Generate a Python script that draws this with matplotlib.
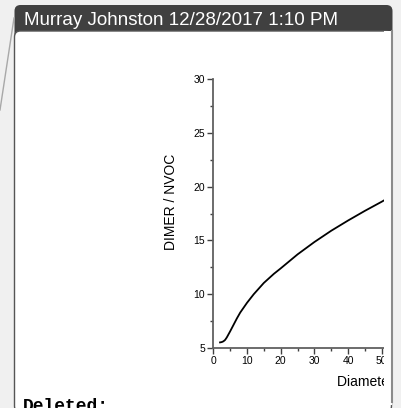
import matplotlib.pyplot as plt
from matplotlib.patches import FancyBboxPatch, Rectangle

# values
diameter = [2, 2.5, 3, 3.5, 4, 5, 6, 7, 8, 10, 12, 15, 18, 20, 25, 30, 35, 40, 45, 50, 51]
ratio = [5.52, 5.55, 5.62, 5.75, 5.98, 6.55, 7.15, 7.75, 8.3, 9.2, 10.0, 11.05, 11.9, 12.4, 13.7, 14.85, 15.9, 16.85, 17.75, 18.6, 18.78]

x_ticks = [0, 10, 20, 30, 40, 50, 60]
y_ticks = [5, 10, 15, 20, 25, 30]

header = "Murray Johnston 12/28/2017 1:10 PM"
footer = "Deleted:"

W, H = 401, 408


def main():
    plt.rcParams['font.family'] = ['Liberation Sans', 'DejaVu Sans']
    fig = plt.figure(figsize=(W / 100, H / 100), dpi=100)
    fig.patch.set_facecolor('#f0f0f0')

    # background layer in pixel coords
    bg = fig.add_axes([0, 0, 1, 1], zorder=0)
    bg.set_xlim(0, W)
    bg.set_ylim(H, 0)
    bg.axis('off')

    bg.plot([14, 0], [18, 110], color='#a8a8a8', lw=1)
    bg.add_patch(FancyBboxPatch((14.5, 5), 378, 40, boxstyle='round,pad=0,rounding_size=6',
                                facecolor='#404040', edgecolor='none'))
    bg.add_patch(FancyBboxPatch((14.5, 31), 377, 381, boxstyle='round,pad=0,rounding_size=6',
                                facecolor='white', edgecolor='#555555', lw=1))
    bg.text(24, 25, header, color='white', fontsize=13.5, va='baseline', ha='left')

    # chart
    ax = fig.add_axes([213.3 / W, 60 / H, 202.2 / W, 269 / H], zorder=1)
    ax.patch.set_alpha(0)
    ax.plot(diameter, ratio, color='black', lw=1.3)
    ax.set_xlim(0, 60)
    ax.set_ylim(5, 30)
    ax.set_xticks(x_ticks)
    ax.set_yticks(y_ticks)
    ax.set_xticks([v + 5 for v in x_ticks[:-1]], minor=True)
    ax.set_yticks([v + 2.5 for v in y_ticks[:-1]], minor=True)
    for s in ['top', 'right']:
        ax.spines[s].set_visible(False)
    for s in ['left', 'bottom']:
        ax.spines[s].set_color('#606060')
        ax.spines[s].set_linewidth(1.3)
    ax.tick_params(which='major', direction='out', length=4, width=1, color='#404040',
                   labelsize=7.5, pad=2)
    ax.tick_params(which='minor', direction='out', length=2.5, width=1, color='#404040')

    fg = fig.add_axes([0, 0, 1, 1], zorder=2)
    fg.set_xlim(0, W)
    fg.set_ylim(H, 0)
    fg.axis('off')
    fg.text(171, 201.5, "DIMER / NVOC", rotation=90, fontsize=10, ha='center', va='center')
    fg.text(337, 386, "Diameter (nm)", fontsize=10, ha='left', va='baseline')
    # the chart image is cut at the comment's right edge
    fg.add_patch(Rectangle((383.5, 31), 8, 374, facecolor='white', edgecolor='none', zorder=10))
    fg.add_patch(Rectangle((392.5, 0), 10, H, facecolor='#f0f0f0', edgecolor='none', zorder=10))
    fg.plot([391.5, 391.5], [31, 402], color='#8a8a8a', lw=1.5, zorder=11)
    fg.text(23, 411, footer, fontsize=13, family='Liberation Mono', weight='bold',
            ha='left', va='baseline', zorder=12)

    fig.savefig('out.png', dpi=100, facecolor=fig.get_facecolor())


if __name__ == "__main__":
    main()
